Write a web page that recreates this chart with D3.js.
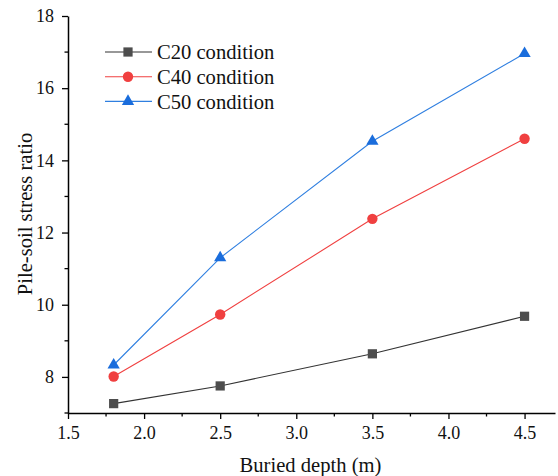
<!DOCTYPE html>
<html>
<head>
<meta charset="utf-8">
<script src="https://cdn.jsdelivr.net/npm/d3@7"></script>
<style>
  body { margin: 0; background: #fff; }
  text { font-family: "Liberation Serif", "Times New Roman", serif; }
</style>
</head>
<body>
<div id="chart"></div>
<script>
// data
const depths = [1.8, 2.5, 3.5, 4.5]
const c20 = [7.26, 7.75, 8.64, 9.68]
const c40 = [8.01, 9.73, 12.38, 14.6]
const c50 = [8.33, 11.3, 14.53, 16.96]
const seriesNames = ["C20 condition", "C40 condition", "C50 condition"]
const xTicks = [1.5, 2.0, 2.5, 3.0, 3.5, 4.0, 4.5]
const yTicks = [8, 10, 12, 14, 16, 18]

const series = [
    { name: seriesNames[0], values: c20, line: "#333333", fill: "#4d4d4d", shape: d3.symbolSquare, size: 85 },
    { name: seriesNames[1], values: c40, line: "#f04040", fill: "#f04040", shape: d3.symbolCircle, size: 85 },
    { name: seriesNames[2], values: c50, line: "#2f7fe0", fill: "#1a6ddc", shape: d3.symbolTriangle, size: 65 }
]

let W = 558, H = 476
let margin = { top: 16, right: 3, bottom: 63, left: 68 },
    width = W - margin.left - margin.right,
    height = H - margin.top - margin.bottom

let svg = d3.select("#chart").append("svg")
    .attr("width", W).attr("height", H)

let g = svg.append("g")
    .attr("transform", "translate(" + margin.left + "," + margin.top + ")")

let x = d3.scaleLinear().domain([1.5, 4.7]).range([0, width])
let y = d3.scaleLinear().domain([7, 18]).range([height, 0])

// minor ticks
let xMinor = d3.range(1.75, 4.7, 0.5)
let yMinor = d3.range(7, 18, 2)

let xAxis = g.append("g")
    .attr("transform", "translate(0," + height + ")")
    .call(d3.axisBottom(x).tickValues(xTicks).tickFormat(d3.format(".1f")).tickSize(6).tickSizeOuter(0))
xAxis.append("g").selectAll("line").data(xMinor).enter().append("line")
    .attr("x1", d => x(d)).attr("x2", d => x(d)).attr("y1", 0).attr("y2", 3.5)
    .attr("stroke", "#000").attr("stroke-width", 1.3)

let yAxis = g.append("g")
    .call(d3.axisLeft(y).tickValues(yTicks).tickFormat(d3.format("d")).tickSize(6).tickSizeOuter(0))
yAxis.append("g").selectAll("line").data(yMinor).enter().append("line")
    .attr("y1", d => y(d)).attr("y2", d => y(d)).attr("x1", 0).attr("x2", -3.5)
    .attr("stroke", "#000").attr("stroke-width", 1.3)

g.selectAll(".domain").attr("stroke", "#000").attr("stroke-width", 1.5)
g.selectAll(".tick line").attr("stroke", "#000").attr("stroke-width", 1.3)
g.selectAll(".tick text").attr("font-size", 18).attr("fill", "#111")
    .attr("font-family", "Liberation Serif")
xAxis.selectAll(".tick text").attr("dy", "0.94em")
yAxis.selectAll(".tick text").attr("dx", "-0.28em")

// axis titles
svg.append("text")
    .attr("x", margin.left + width / 2 - 1).attr("y", 472)
    .attr("text-anchor", "middle").attr("font-size", 20.6).attr("fill", "#111")
    .text("Buried depth (m)")
svg.append("text")
    .attr("transform", "translate(32,214) rotate(-90)")
    .attr("text-anchor", "middle").attr("font-size", 20.6).attr("fill", "#111")
    .text("Pile-soil stress ratio")

// lines + markers
let line = d3.line().x((d, i) => x(depths[i])).y(d => y(d))

for (const s of series) {
    g.append("path").datum(s.values)
        .attr("d", line).attr("fill", "none")
        .attr("stroke", s.line).attr("stroke-width", 1.1)
    g.selectAll(null).data(s.values).enter().append("path")
        .attr("d", d3.symbol().type(s.shape).size(s.size))
        .attr("transform", (d, i) => "translate(" + x(depths[i]) + "," + y(d) + ")")
        .attr("fill", s.fill)
}

// legend
let legend = svg.append("g").attr("transform", "translate(105,52)")
series.forEach((s, i) => {
    let row = legend.append("g").attr("transform", "translate(0," + i * 24.7 + ")")
    row.append("line").attr("x1", 0).attr("x2", 47).attr("y1", 0).attr("y2", 0)
        .attr("stroke", s.line).attr("stroke-width", 1.1)
    row.append("path").attr("d", d3.symbol().type(s.shape).size(s.size))
        .attr("transform", "translate(23,0)").attr("fill", s.fill)
    row.append("text").attr("x", 52).attr("y", 0).attr("dy", "0.35em")
        .attr("font-size", 20.6).attr("fill", "#111").text(s.name)
})
</script>
</body>
</html>
